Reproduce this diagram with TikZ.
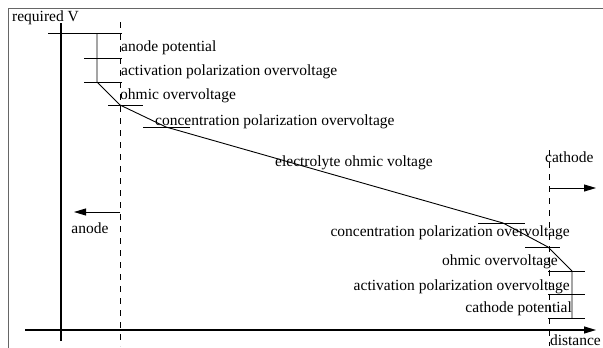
\documentclass[tikz,border=0pt]{standalone}
\usepackage{fontspec}
\setmainfont{Liberation Serif}
\usetikzlibrary{arrows.meta}
\begin{document}
\begin{tikzpicture}[x=1pt,y=-1pt,
    axis/.style={line width=1.1pt,-{Triangle[length=12pt,width=7pt]}},
    level/.style={line width=0.9pt},
    electrode/.style={line width=0.9pt,dash pattern=on 6pt off 6pt},
    lbl/.style={inner sep=0pt,font=\fontsize{15.5}{18}\selectfont}]
        \useasboundingbox (0,0) rectangle (603,348);
        % Frame
        \draw[gray!80!black,line width=1.6pt] (603,8.5) -- (8.5,8.5) -- (8.5,348);

        % Axes
        \coordinate (origin) at (61,330);
        \coordinate (ytop) at (61,23);
        \coordinate (xleft) at (25,330);
        \coordinate (xright) at (596,330);
        \draw[line width=1.1pt] (61,341) -- (ytop);
        \draw[axis] (xleft) -- (xright);
        \node[lbl,anchor=west] (reqv) at (12,18) {required V};
        \node[lbl,anchor=east] (dist) at (601,340) {distance};

        % Electrodes
        \draw[electrode] (120,22) -- (120,346);
        \draw[electrode] (549,150) -- (549,346);
        \coordinate (anodeA) at (120,212);
        \coordinate (anodeB) at (74,212);
        \coordinate (cathA) at (549,188);
        \coordinate (cathB) at (596,188);
        \draw[axis,line width=0.9pt] (anodeA) -- (anodeB);
        \draw[axis,line width=0.9pt] (cathA) -- (cathB);
        \node[lbl] (anode) at (90,228) {anode};
        \node[lbl,anchor=west] (cathode) at (545,157) {cathode};

        % Potential curve
        \coordinate (p0) at (97,33);
        \coordinate (p1) at (97,82);
        \coordinate (p2) at (120,105);
        \coordinate (p3) at (166,127);
        \coordinate (p4) at (503,223);
        \coordinate (p5) at (548,247);
        \coordinate (p6) at (572,271);
        \coordinate (p7) at (572,318);
        \draw[level] (p0) -- (p1) -- (p2) -- (p3) -- (p4) -- (p5) -- (p6) -- (p7);

        % Level marks, anode side
        \draw[level] (48,33) -- (122,33);
        \draw[level] (84,58) -- (122,58);
        \draw[level] (84,82) -- (122,82);
        \draw[level] (108,105) -- (143,105);
        \draw[level] (143,127) -- (190,127);
        % Level marks, cathode side
        \draw[level] (478,223) -- (525,223);
        \draw[level] (525,247) -- (560,247);
        \draw[level] (548,271) -- (585,271);
        \draw[level] (548,294) -- (585,294);
        \draw[level] (548,318) -- (585,318);

        % Labels
        \node[lbl,anchor=west] (anpot) at (121,48) {anode potential};
        \node[lbl,anchor=west] (anact) at (121,72) {activation polarization overvoltage};
        \node[lbl,anchor=west] (anohm) at (120,96) {ohmic overvoltage};
        \node[lbl,anchor=west] (anconc) at (155,122) {concentration polarization overvoltage};
        \node[lbl,anchor=west] (elec) at (275,163) {electrolyte ohmic voltage};
        \node[lbl,anchor=east] (caconc) at (570,233) {concentration polarization overvoltage};
        \node[lbl,anchor=east] (caohm) at (558,262) {ohmic overvoltage};
        \node[lbl,anchor=east] (caact) at (570,287) {activation polarization overvoltage};
        \node[lbl,anchor=east] (capot) at (572,309) {cathode potential};
    \end{tikzpicture}
\end{document}
